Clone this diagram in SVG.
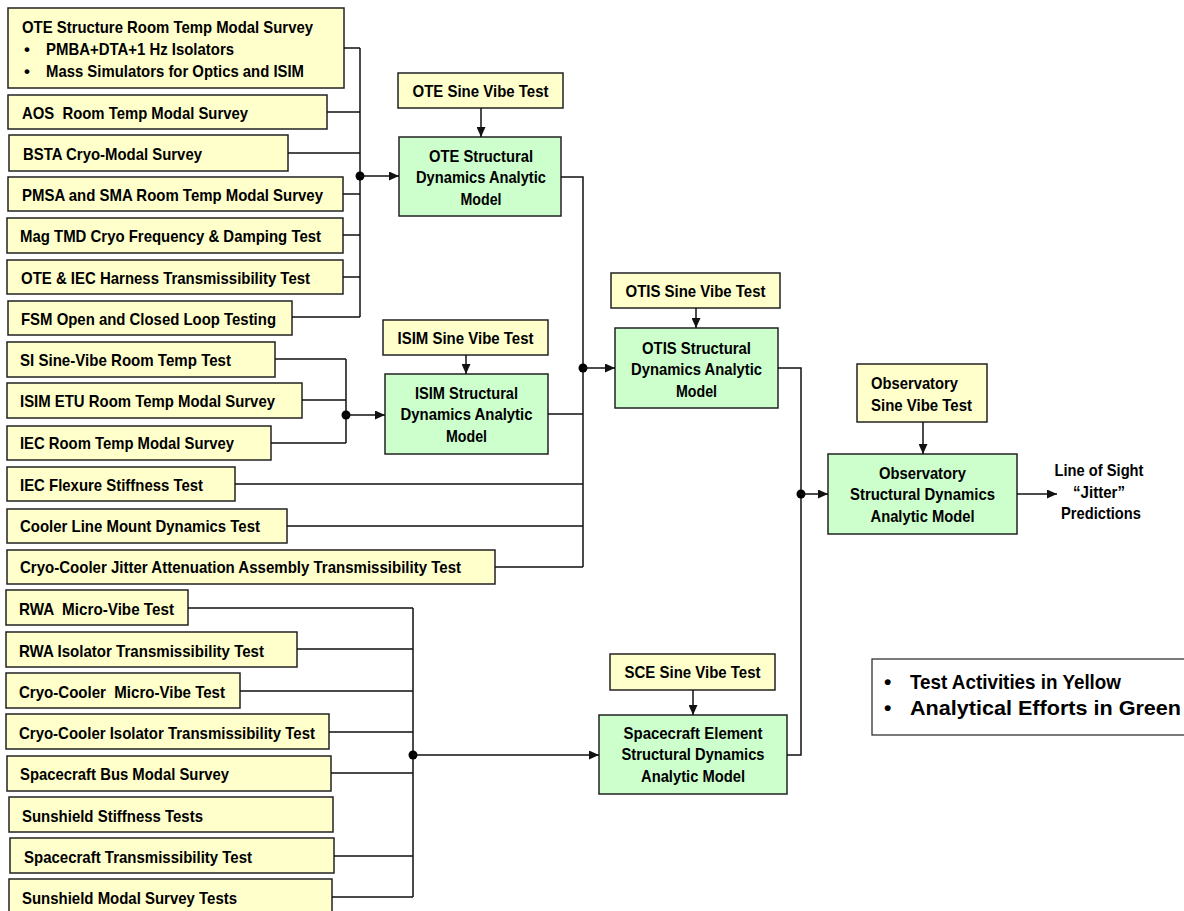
<svg xmlns="http://www.w3.org/2000/svg" width="1184" height="911" viewBox="0 0 1184 911">
  <defs>
    <marker id="arrow" markerUnits="userSpaceOnUse" markerWidth="11" markerHeight="9" refX="10" refY="4.5" orient="auto">
      <path d="M0,0 L10,4.5 L0,9 z" fill="#111"/>
    </marker>
  </defs>
  <style>
    .test { fill: #FFFFCC; stroke: #222; stroke-width: 1.5; }
    .model { fill: #CCFFCC; stroke: #222; stroke-width: 1.5; }
    .legend { fill: #FFFFFF; stroke: #222; stroke-width: 1.2; }
    text { font-family: "Liberation Sans", Arial, sans-serif; font-weight: bold; font-size: 17px; fill: #000; white-space: pre; }
    .c { text-anchor: middle; }
    .big { font-size: 21px; }
    .wire { fill: none; stroke: #111; stroke-width: 1.5; }
    .arr { fill: none; stroke: #111; stroke-width: 1.5; marker-end: url(#arrow); }
    .dot { fill: #000; }
  </style>
  <rect width="1184" height="911" fill="#FFFFFF"/>

  <!-- OTE-level test activities -->
  <g id="ote-structure-survey">
    <rect class="test" x="8" y="8" width="336" height="80"/>
    <text x="22" y="33" textLength="291" lengthAdjust="spacingAndGlyphs">OTE Structure Room Temp Modal Survey</text>
    <text x="24" y="55">•</text>
    <text x="46" y="55" textLength="188" lengthAdjust="spacingAndGlyphs">PMBA+DTA+1 Hz Isolators</text>
    <text x="24" y="77">•</text>
    <text x="46" y="77" textLength="258" lengthAdjust="spacingAndGlyphs">Mass Simulators for Optics and ISIM</text>
  </g>
  <g id="aos-survey"><rect class="test" x="8" y="95" width="319" height="34"/><text x="22" y="119" textLength="226" lengthAdjust="spacingAndGlyphs">AOS  Room Temp Modal Survey</text></g>
  <g id="bsta-survey"><rect class="test" x="9" y="135" width="279" height="36"/><text x="23" y="160" textLength="179" lengthAdjust="spacingAndGlyphs">BSTA Cryo-Modal Survey</text></g>
  <g id="pmsa-sma-survey"><rect class="test" x="8" y="177" width="335" height="34"/><text x="22" y="201" textLength="301" lengthAdjust="spacingAndGlyphs">PMSA and SMA Room Temp Modal Survey</text></g>
  <g id="mag-tmd-test"><rect class="test" x="7" y="218" width="336" height="35"/><text x="20" y="242" textLength="301" lengthAdjust="spacingAndGlyphs">Mag TMD Cryo Frequency &amp; Damping Test</text></g>
  <g id="harness-test"><rect class="test" x="7" y="260" width="336" height="34"/><text x="21" y="284" textLength="289" lengthAdjust="spacingAndGlyphs">OTE &amp; IEC Harness Transmissibility Test</text></g>
  <g id="fsm-test"><rect class="test" x="8" y="301" width="284" height="34"/><text x="21" y="325" textLength="255" lengthAdjust="spacingAndGlyphs">FSM Open and Closed Loop Testing</text></g>

  <!-- ISIM-level test activities -->
  <g id="si-sine-vibe"><rect class="test" x="7" y="342" width="268" height="35"/><text x="20" y="366" textLength="211" lengthAdjust="spacingAndGlyphs">SI Sine-Vibe Room Temp Test</text></g>
  <g id="isim-etu-survey"><rect class="test" x="7" y="383" width="295" height="35"/><text x="20" y="407" textLength="255" lengthAdjust="spacingAndGlyphs">ISIM ETU Room Temp Modal Survey</text></g>
  <g id="iec-survey"><rect class="test" x="7" y="426" width="264" height="34"/><text x="20" y="449" textLength="214" lengthAdjust="spacingAndGlyphs">IEC Room Temp Modal Survey</text></g>

  <!-- OTIS-level test activities -->
  <g id="iec-flexure-test"><rect class="test" x="7" y="467" width="228" height="34"/><text x="20" y="491" textLength="183" lengthAdjust="spacingAndGlyphs">IEC Flexure Stiffness Test</text></g>
  <g id="cooler-line-test"><rect class="test" x="7" y="509" width="280" height="34"/><text x="20" y="532" textLength="240" lengthAdjust="spacingAndGlyphs">Cooler Line Mount Dynamics Test</text></g>
  <g id="cjaa-test"><rect class="test" x="7" y="550" width="488" height="34"/><text x="20" y="573" textLength="441" lengthAdjust="spacingAndGlyphs">Cryo-Cooler Jitter Attenuation Assembly Transmissibility Test</text></g>

  <!-- Spacecraft-level test activities -->
  <g id="rwa-microvibe"><rect class="test" x="6" y="590" width="182" height="35"/><text x="19" y="615" textLength="155" lengthAdjust="spacingAndGlyphs">RWA  Micro-Vibe Test</text></g>
  <g id="rwa-isolator"><rect class="test" x="6" y="632" width="291" height="35"/><text x="19" y="657" textLength="245" lengthAdjust="spacingAndGlyphs">RWA Isolator Transmissibility Test</text></g>
  <g id="cooler-microvibe"><rect class="test" x="6" y="673" width="234" height="35"/><text x="19" y="698" textLength="206" lengthAdjust="spacingAndGlyphs">Cryo-Cooler  Micro-Vibe Test</text></g>
  <g id="cooler-isolator"><rect class="test" x="6" y="714" width="323" height="35"/><text x="19" y="739" textLength="296" lengthAdjust="spacingAndGlyphs">Cryo-Cooler Isolator Transmissibility Test</text></g>
  <g id="bus-survey"><rect class="test" x="7" y="756" width="324" height="35"/><text x="20" y="780" textLength="209" lengthAdjust="spacingAndGlyphs">Spacecraft Bus Modal Survey</text></g>
  <g id="sunshield-stiffness"><rect class="test" x="9" y="797" width="324" height="35"/><text x="22" y="822" textLength="181" lengthAdjust="spacingAndGlyphs">Sunshield Stiffness Tests</text></g>
  <g id="sc-transmissibility"><rect class="test" x="10" y="838" width="324" height="35"/><text x="24" y="863" textLength="228" lengthAdjust="spacingAndGlyphs">Spacecraft Transmissibility Test</text></g>
  <g id="sunshield-survey"><rect class="test" x="9" y="879" width="323" height="40"/><text x="22" y="904" textLength="215" lengthAdjust="spacingAndGlyphs">Sunshield Modal Survey Tests</text></g>

  <!-- Sine vibe tests and analytic models -->
  <g id="ote-sine-vibe"><rect class="test" x="398" y="73" width="165" height="35"/><text class="c" x="480.5" y="97" textLength="136" lengthAdjust="spacingAndGlyphs">OTE Sine Vibe Test</text></g>
  <g id="ote-model">
    <rect class="model" x="399" y="137" width="162" height="79"/>
    <text class="c" x="481" y="162" textLength="104" lengthAdjust="spacingAndGlyphs">OTE Structural</text>
    <text class="c" x="481" y="183" textLength="130" lengthAdjust="spacingAndGlyphs">Dynamics Analytic</text>
    <text class="c" x="481" y="205" textLength="41" lengthAdjust="spacingAndGlyphs">Model</text>
  </g>
  <g id="isim-sine-vibe"><rect class="test" x="383" y="320" width="165" height="35"/><text class="c" x="465.5" y="344" textLength="136" lengthAdjust="spacingAndGlyphs">ISIM Sine Vibe Test</text></g>
  <g id="isim-model">
    <rect class="model" x="385" y="374" width="163" height="80"/>
    <text class="c" x="466.5" y="399" textLength="103" lengthAdjust="spacingAndGlyphs">ISIM Structural</text>
    <text class="c" x="466.5" y="420" textLength="132" lengthAdjust="spacingAndGlyphs">Dynamics Analytic</text>
    <text class="c" x="466.5" y="442" textLength="41" lengthAdjust="spacingAndGlyphs">Model</text>
  </g>
  <g id="otis-sine-vibe"><rect class="test" x="611" y="273" width="169" height="35"/><text class="c" x="695.5" y="297" textLength="140" lengthAdjust="spacingAndGlyphs">OTIS Sine Vibe Test</text></g>
  <g id="otis-model">
    <rect class="model" x="615" y="328" width="163" height="80"/>
    <text class="c" x="696.5" y="354" textLength="109" lengthAdjust="spacingAndGlyphs">OTIS Structural</text>
    <text class="c" x="696.5" y="375" textLength="131" lengthAdjust="spacingAndGlyphs">Dynamics Analytic</text>
    <text class="c" x="696.5" y="397" textLength="41" lengthAdjust="spacingAndGlyphs">Model</text>
  </g>
  <g id="sce-sine-vibe"><rect class="test" x="610" y="654" width="165" height="36"/><text class="c" x="692.5" y="678" textLength="136" lengthAdjust="spacingAndGlyphs">SCE Sine Vibe Test</text></g>
  <g id="sce-model">
    <rect class="model" x="599" y="715" width="188" height="79"/>
    <text class="c" x="693" y="739" textLength="139" lengthAdjust="spacingAndGlyphs">Spacecraft Element</text>
    <text class="c" x="693" y="760" textLength="143" lengthAdjust="spacingAndGlyphs">Structural Dynamics</text>
    <text class="c" x="693" y="782" textLength="104" lengthAdjust="spacingAndGlyphs">Analytic Model</text>
  </g>
  <g id="obs-sine-vibe">
    <rect class="test" x="857" y="364" width="130" height="58"/>
    <text x="871" y="389" textLength="87" lengthAdjust="spacingAndGlyphs">Observatory</text>
    <text x="871" y="411" textLength="101" lengthAdjust="spacingAndGlyphs">Sine Vibe Test</text>
  </g>
  <g id="obs-model">
    <rect class="model" x="828" y="454" width="189" height="80"/>
    <text class="c" x="922.5" y="479" textLength="87" lengthAdjust="spacingAndGlyphs">Observatory</text>
    <text class="c" x="922.5" y="500" textLength="145" lengthAdjust="spacingAndGlyphs">Structural Dynamics</text>
    <text class="c" x="922.5" y="522" textLength="104" lengthAdjust="spacingAndGlyphs">Analytic Model</text>
  </g>
  <g id="los-jitter">
    <text class="c" x="1099" y="476" textLength="89" lengthAdjust="spacingAndGlyphs">Line of Sight</text>
    <text class="c" x="1099" y="498" textLength="52" lengthAdjust="spacingAndGlyphs">“Jitter”</text>
    <text class="c" x="1101" y="519" textLength="80" lengthAdjust="spacingAndGlyphs">Predictions</text>
  </g>

  <!-- Colour key -->
  <g id="legend">
    <rect class="legend" x="872" y="659" width="320" height="76"/>
    <text class="big" x="884" y="689">•</text>
    <text class="big" x="910" y="689" textLength="211" lengthAdjust="spacingAndGlyphs">Test Activities in Yellow</text>
    <text class="big" x="884" y="715">•</text>
    <text class="big" x="910" y="715" textLength="271" lengthAdjust="spacingAndGlyphs">Analytical Efforts in Green</text>
  </g>

  <g id="connectors">
    <!-- OTE tests into OTE model -->
    <path class="wire" d="M344,48 H360 M327,112 H360 M288,153 H360 M343,194 H360 M343,235 H360 M343,277 H360 M292,317 H360 M360,48 V317"/>
    <circle class="dot" cx="360" cy="176" r="4.5"/>
    <path class="arr" d="M360,176 H399"/>
    <path class="arr" d="M481,108 V137"/>

    <!-- ISIM tests into ISIM model -->
    <path class="wire" d="M275,359 H346 M302,400 H346 M271,443 H346 M346,359 V443"/>
    <circle class="dot" cx="346" cy="415" r="4.5"/>
    <path class="arr" d="M346,415 H385"/>
    <path class="arr" d="M466,355 V374"/>

    <!-- OTE, ISIM and OTIS tests into OTIS model -->
    <path class="wire" d="M561,177 H583 V567 M548,414 H583 M235,484 H583 M287,526 H583 M495,567 H583"/>
    <circle class="dot" cx="583" cy="368" r="4.5"/>
    <path class="arr" d="M583,368 H615"/>
    <path class="arr" d="M696,308 V328"/>

    <!-- Spacecraft tests into SCE model -->
    <path class="wire" d="M188,608 H413 M297,649 H413 M240,691 H413 M329,732 H413 M331,773 H413 M334,856 H413 M332,897 H413 M413,608 V897"/>
    <circle class="dot" cx="413" cy="755" r="4.5"/>
    <path class="arr" d="M413,755 H599"/>
    <path class="arr" d="M693,690 V715"/>

    <!-- OTIS and SCE models into observatory model -->
    <path class="wire" d="M778,368 H801 V755 H787"/>
    <circle class="dot" cx="801" cy="494" r="4.5"/>
    <path class="arr" d="M801,494 H828"/>
    <path class="arr" d="M923,422 V454"/>
    <path class="arr" d="M1017,494 H1057"/>
  </g>
</svg>
